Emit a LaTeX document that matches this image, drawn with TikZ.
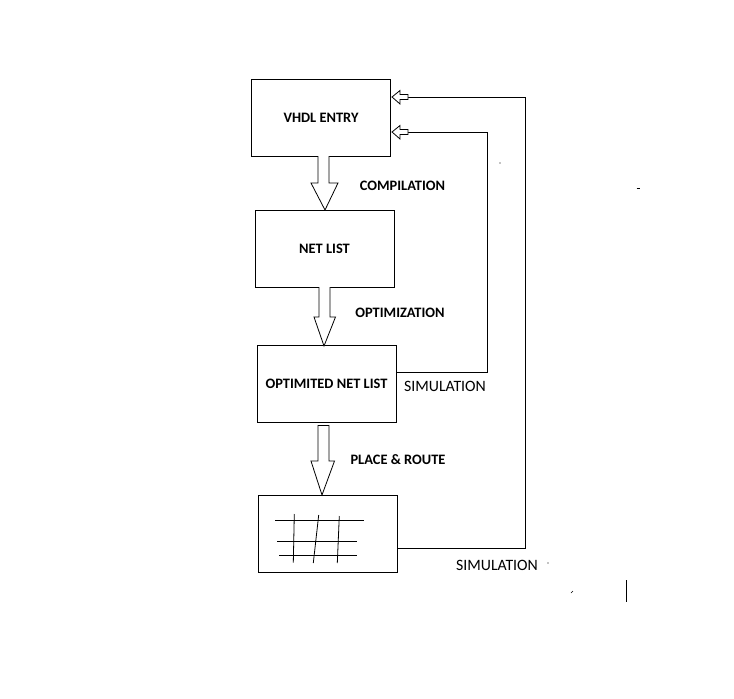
\documentclass[tikz,border=0pt]{standalone}
\usepackage{fontspec}
\setmainfont{Carlito}
\usetikzlibrary{calc}
\begin{document}
\begin{tikzpicture}[x=1pt,y=-1pt,line width=0.8pt,
  box/.style={draw,minimum width=139pt,minimum height=77pt,inner sep=0pt,font=\bfseries\fontsize{14.4}{16}\selectfont},
  lbl/.style={font=\bfseries\fontsize{14.4}{16}\selectfont,inner sep=0pt},
  simlbl/.style={font=\fontsize{15.8}{18}\selectfont,inner sep=0pt},
  hollow/.style={draw,fill=white,line width=0.8pt}]
\useasboundingbox (0,0) rectangle (734,699);
\fill[white] (0,0) rectangle (734,699);
% boxes
\node[box] (vhdl) at (321,117.5) {VHDL ENTRY};
\node[box] (net) at (324.5,248.5) {NET LIST};
\node[box] (opt) at (326.5,383.5) {OPTIMITED NET LIST};
\node[box] (pr) at (327.5,533.5) {};
% block arrows
\draw[hollow] (318,156) -- (318,183) -- (311,183) -- (325,210) -- (338,183) -- (329,183) -- (329,156);
\draw[hollow] (319,287) -- (319,317) -- (314,317) -- (324,346) -- (335.5,317) -- (330,317) -- (330,287);
\draw[hollow] (318,425.5) -- (329,425.5) -- (329,461) -- (334.5,461) -- (322,495) -- (311,461) -- (318,461) -- cycle;
% labels
\node[lbl] (l1) at (402.5,186) {COMPILATION};
\node[lbl] (l2) at (400,313) {OPTIMIZATION};
\node[lbl] (l3) at (398,460) {PLACE \& ROUTE};
\node[simlbl] (s1) at (445,386.5) {SIMULATION};
\node[simlbl] (s2) at (497,565) {SIMULATION};
% feedback loops
\coordinate (o1) at (396,372);
\coordinate (c1) at (487,132);
\coordinate (h1) at (408,132);
\draw (o1) -| (c1) -- (h1);
\draw[hollow] (408,129.5) -- (400,129.5) -- (400,125.5) -- (392,132) -- (400,139) -- (400,134.5) -- (408,134.5) -- cycle;
\coordinate (o2) at (397.5,548);
\coordinate (c2) at (525,97);
\coordinate (h2) at (408,97);
\draw (o2) -| (c2) -- (h2);
\draw[hollow] (408,94.5) -- (400,94.5) -- (400,90.5) -- (392,97) -- (400,104) -- (400,99.5) -- (408,99.5) -- cycle;
% grid sketch
\draw (275,520) -- (364,520);
\draw (277,541) -- (357,541);
\draw (279,555) -- (357,555);
\draw (294.3,514) -- (293.3,562.7);
\draw (318.7,515) -- (313.3,563);
\draw (339.3,516) -- (337.3,563);
% stray marks
\draw (626,580) -- (626,602);
\draw (636.5,188) -- (640,188);
\fill (500,163) circle (0.6);
\fill (548,563) circle (0.6);
\draw[line width=0.5pt] (571,593) -- (573,591);
\end{tikzpicture}
\end{document}
